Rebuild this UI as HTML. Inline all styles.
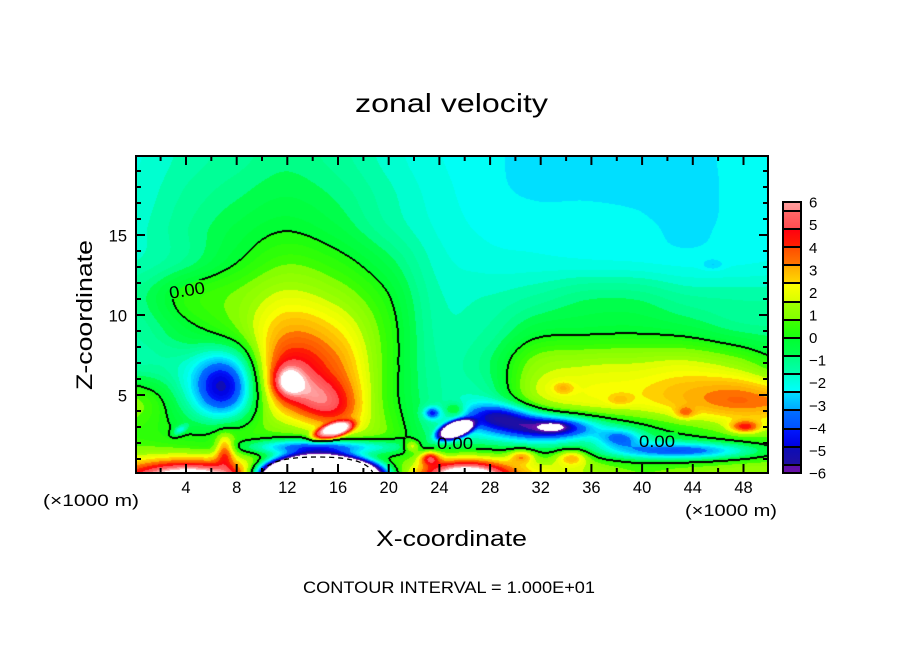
<!DOCTYPE html>
<html><head><meta charset="utf-8">
<style>
html,body{margin:0;padding:0;background:#fff;}
#wrap{position:relative;width:904px;height:654px;overflow:hidden;background:#fff;font-family:"Liberation Sans",sans-serif;}
#c{position:absolute;left:136px;top:156px;}
svg{position:absolute;left:0;top:0;}
svg text{font-family:"Liberation Sans",sans-serif;fill:#000;}
</style></head><body>
<div id="wrap">
<canvas id="c" width="632" height="317"></canvas>
<svg width="904" height="654" xmlns="http://www.w3.org/2000/svg">
<defs>
<linearGradient id="g0" x1="0" y1="0" x2="0" y2="1"><stop offset="0" stop-color="#ff9c9c"/><stop offset="1" stop-color="#ff8c8c"/></linearGradient>
<linearGradient id="g1" x1="0" y1="0" x2="0" y2="1"><stop offset="0" stop-color="#ff6868"/><stop offset="1" stop-color="#ff4c50"/></linearGradient>
<linearGradient id="g2" x1="0" y1="0" x2="0" y2="1"><stop offset="0" stop-color="#ff0010"/><stop offset="1" stop-color="#ff2000"/></linearGradient>
<linearGradient id="g3" x1="0" y1="0" x2="0" y2="1"><stop offset="0" stop-color="#ff4c00"/><stop offset="1" stop-color="#ff7800"/></linearGradient>
<linearGradient id="g4" x1="0" y1="0" x2="0" y2="1"><stop offset="0" stop-color="#ffa800"/><stop offset="1" stop-color="#ffd800"/></linearGradient>
<linearGradient id="g5" x1="0" y1="0" x2="0" y2="1"><stop offset="0" stop-color="#ffff00"/><stop offset="1" stop-color="#d8ff00"/></linearGradient>
<linearGradient id="g6" x1="0" y1="0" x2="0" y2="1"><stop offset="0" stop-color="#a0ff00"/><stop offset="1" stop-color="#80ff00"/></linearGradient>
<linearGradient id="g7" x1="0" y1="0" x2="0" y2="1"><stop offset="0" stop-color="#40ff00"/><stop offset="1" stop-color="#18ff10"/></linearGradient>
<linearGradient id="g8" x1="0" y1="0" x2="0" y2="1"><stop offset="0" stop-color="#00ff30"/><stop offset="1" stop-color="#00ff50"/></linearGradient>
<linearGradient id="g9" x1="0" y1="0" x2="0" y2="1"><stop offset="0" stop-color="#00ff80"/><stop offset="1" stop-color="#00ffb0"/></linearGradient>
<linearGradient id="g10" x1="0" y1="0" x2="0" y2="1"><stop offset="0" stop-color="#00ffc8"/><stop offset="1" stop-color="#00ffff"/></linearGradient>
<linearGradient id="g11" x1="0" y1="0" x2="0" y2="1"><stop offset="0" stop-color="#00e0ff"/><stop offset="1" stop-color="#00a8ff"/></linearGradient>
<linearGradient id="g12" x1="0" y1="0" x2="0" y2="1"><stop offset="0" stop-color="#0070ff"/><stop offset="1" stop-color="#0050ff"/></linearGradient>
<linearGradient id="g13" x1="0" y1="0" x2="0" y2="1"><stop offset="0" stop-color="#0018ff"/><stop offset="1" stop-color="#0000e0"/></linearGradient>
<linearGradient id="g14" x1="0" y1="0" x2="0" y2="1"><stop offset="0" stop-color="#0c0cb8"/><stop offset="1" stop-color="#2010a0"/></linearGradient>
<linearGradient id="g15" x1="0" y1="0" x2="0" y2="1"><stop offset="0" stop-color="#5a10a8"/><stop offset="1" stop-color="#6a10a8"/></linearGradient>
</defs>

<path d="M262,473 C266,462 285,457 318,457 C350,457 368,462 373,473" fill="none" stroke="#000" stroke-width="1.3" stroke-dasharray="5,4"/>

<rect x="136" y="156" width="632" height="317" fill="none" stroke="#000" stroke-width="2"/>
<path id="ticks" d="" fill="none" stroke="#000" stroke-width="2"/>

<text x="187" y="296" font-size="17" text-anchor="middle" textLength="36" lengthAdjust="spacingAndGlyphs" transform="rotate(-9 187 290)">0.00</text>
<text x="455" y="449" font-size="17" text-anchor="middle" textLength="36" lengthAdjust="spacingAndGlyphs">0.00</text>
<text x="657" y="447" font-size="17" text-anchor="middle" textLength="36" lengthAdjust="spacingAndGlyphs">0.00</text>

<text x="451.5" y="112" font-size="26" text-anchor="middle" textLength="193" lengthAdjust="spacingAndGlyphs">zonal velocity</text>
<text x="451.5" y="546" font-size="22" text-anchor="middle" textLength="151" lengthAdjust="spacingAndGlyphs">X-coordinate</text>
<text transform="translate(92,315) rotate(-90)" x="0" y="0" font-size="22" text-anchor="middle" textLength="150" lengthAdjust="spacingAndGlyphs">Z-coordinate</text>
<text x="449" y="593" font-size="16.5" text-anchor="middle" textLength="292" lengthAdjust="spacingAndGlyphs">CONTOUR INTERVAL = 1.000E+01</text>
<text x="43" y="506" font-size="16.5" textLength="96" lengthAdjust="spacingAndGlyphs">(×1000 m)</text>
<text x="685" y="516" font-size="16.5" textLength="92" lengthAdjust="spacingAndGlyphs">(×1000 m)</text>

<text x="127" y="241.5" font-size="16.5" text-anchor="end">15</text>
<text x="127" y="321.5" font-size="16.5" text-anchor="end">10</text>
<text x="127" y="401.5" font-size="16.5" text-anchor="end">5</text>

<g id="xlabels" font-size="16.5" text-anchor="middle"></g>

<g stroke="#000" stroke-width="2">
<rect x="783" y="202" width="18" height="9" fill="url(#g0)"/>
<rect x="783" y="211" width="18" height="18" fill="url(#g1)"/>
<rect x="783" y="229" width="18" height="18" fill="url(#g2)"/>
<rect x="783" y="247" width="18" height="18" fill="url(#g3)"/>
<rect x="783" y="265" width="18" height="18" fill="url(#g4)"/>
<rect x="783" y="283" width="18" height="19" fill="url(#g5)"/>
<rect x="783" y="302" width="18" height="18" fill="url(#g6)"/>
<rect x="783" y="320" width="18" height="18" fill="url(#g7)"/>
<rect x="783" y="338" width="18" height="18" fill="url(#g8)"/>
<rect x="783" y="356" width="18" height="18" fill="url(#g9)"/>
<rect x="783" y="374" width="18" height="18" fill="url(#g10)"/>
<rect x="783" y="392" width="18" height="18" fill="url(#g11)"/>
<rect x="783" y="410" width="18" height="19" fill="url(#g12)"/>
<rect x="783" y="429" width="18" height="18" fill="url(#g13)"/>
<rect x="783" y="447" width="18" height="18" fill="url(#g14)"/>
<rect x="783" y="465" width="18" height="8" fill="url(#g15)"/>
</g>
<g id="cblabels" font-size="15"></g>
</svg>
</div>
<script>
(function(){
var NS="http://www.w3.org/2000/svg";
var d="";
for(var u=2;u<=48;u+=2){
  var X=(135.3+12.67*u).toFixed(1);
  var len=(u%4==0)?9:5;
  d+="M"+X+" 473v-"+len+"M"+X+" 156v"+len;
}
for(var v=1;v<=19;v++){
  var Y=475-16*v; var len2=(v%5==0)?9:5;
  d+="M136 "+Y+"h"+len2+"M768 "+Y+"h-"+len2;
}
document.getElementById('ticks').setAttribute('d',d);
var xl=document.getElementById('xlabels');
for(var u2=4;u2<=48;u2+=4){
  var t=document.createElementNS(NS,'text');
  t.setAttribute('x',(135.3+12.67*u2).toFixed(1));
  t.setAttribute('y','493');
  t.textContent=String(u2);
  xl.appendChild(t);
}
var cb=document.getElementById('cblabels');
for(var k=0;k<=12;k++){
  var val=6-k;
  var t2=document.createElementNS(NS,'text');
  t2.setAttribute('x','809');
  t2.setAttribute('y',(202.3+22.58*k+5.3).toFixed(1));
  t2.textContent=(val<0?"\u2212"+(-val):String(val));
  cb.appendChild(t2);
}

var grid=[
[-1.9,-1.5,-1.2,-0.9,-1.2,-1.7,-2.1,-2.3,-2.55,-2.55,-2.55,-2.55,-2.3,-2.2],
[-1.8,-1.3,-0.9,-0.6,-0.9,-1.5,-2.0,-2.3,-2.45,-2.45,-2.5,-2.6,-2.3,-2.2],
[-1.7,-1.1,-0.5,-0.1,-0.5,-1.3,-1.9,-2.2,-2.25,-2.25,-2.3,-2.5,-2.3,-2.2],
[-1.6,-1.0,-0.05,0.7,0.3,-0.6,-1.7,-2.0,-2.05,-2.1,-2.15,-2.25,-2.2,-2.1],
[-1.0,0.3,0.9,1.8,1.3,0.1,-1.5,-1.6,-1.3,-0.9,-0.9,-1.3,-1.4,-1.4],
[-1.3,-0.3,0.8,3.1,2.5,0.5,-1.4,-1.3,-0.3,-0.15,-0.1,-0.3,-0.8,-1.0],
[-1.3,-1.2,-0.8,4.3,3.5,0.6,-1.3,-0.9,1.2,1.6,1.7,1.9,1.4,0.2],
[0.9,-0.6,-0.7,3.2,3.7,0.6,-1.2,-1.3,1.4,2.0,2.2,2.9,3.5,3.1],
[0.5,0.2,0.8,0.8,1.5,0.8,-1.0,-1.5,-1.5,-0.6,-0.6,0.1,0.8,1.0],
[1.5,1.5,1.0,0,0,0.2,2.0,2.5,2.0,1.5,0.8,1.0,1.2,1.2]
];
function G(i,j){ if(i<0)i=0; if(i>13)i=13; if(j<0)j=0; if(j>9)j=9; return grid[j][i]; }
function cr(p0,p1,p2,p3,t){ return 0.5*((2*p1)+(-p0+p2)*t+(2*p0-5*p1+4*p2-p3)*t*t+(-p0+3*p1-3*p2+p3)*t*t*t); }
function bg(x,y){
  var fx=(x-136)/50, fy=(y-156)/35;
  var i=Math.floor(fx), j=Math.floor(fy);
  var tx=fx-i, ty=fy-j;
  var r=[];
  for(var k=-1;k<=2;k++){ r.push(cr(G(i-1,j+k),G(i,j+k),G(i+1,j+k),G(i+2,j+k),tx)); }
  return cr(r[0],r[1],r[2],r[3],ty);
}
var blobs=[
[222,388,-3.6,32,32,0,1],
[288,382,3.0,15,15,0,1],
[320,400,1.8,36,20,30,1],
[333,431,5.0,22,8,-18,2],
[320,478,-20,60,22,0,2],
[322,447,-4.5,74,8,0,1],
[190,480,7,65,18,0,1],
[225,450,3.0,9,15,0,1],
[465,478,6.5,40,16,0,1],
[412,446,2.5,8,6,0,1],
[430,458,3.5,10,7,0,1],
[455,430,-7,20,9,-20,2],
[500,416,-3.4,36,13,0,1],
[553,427,-4.6,48,12,0,1],
[553,427,-2.8,12,4,0,1],
[685,451,-4.0,78,9,0,1],
[620,438,-2.5,22,9,0,1],
[522,456,2.5,13,7,0,1],
[572,457,2.5,16,8,0,1],
[745,427,3.0,15,6,0,1],
[685,413,1.5,10,6,0,1],
[563,388,1.0,10,6,0,1],
[620,400,0.7,12,6,0,1],
[455,410,1.8,10,7,0,1],
[713,265,-0.5,10,5,0,1],
[180,430,-2.0,8,4,-30,1],
[432,413,-3,8,6,0,1]
];
for(var b=0;b<blobs.length;b++){ var a=blobs[b][5]*Math.PI/180; blobs[b].push(Math.cos(a),Math.sin(a)); }
function field(x,y){
  var v=bg(x,y);
  for(var n=0;n<blobs.length;n++){
    var B=blobs[n];
    var dx=x-B[0], dy=y-B[1];
    var u=(dx*B[7]+dy*B[8])/B[3], w=(-dx*B[8]+dy*B[7])/B[4];
    var r2=u*u+w*w;
    if(r2>30) continue;
    v+=B[2]*Math.exp(-(B[6]==1?r2:Math.pow(r2,B[6])));
  }
  return v;
}
function hx(s){ return [parseInt(s.substr(0,2),16),parseInt(s.substr(2,2),16),parseInt(s.substr(4,2),16)]; }
var stops=[
[-6.0,"6a10a8"],[-5.6,"5010a8"],[-5.58,"2010a0"],[-4.82,"0c0cb8"],[-4.80,"0000e0"],[-4.02,"0018ff"],
[-4.00,"0050ff"],[-3.22,"0070ff"],[-3.20,"00a8ff"],[-2.42,"00e8ff"],[-2.40,"00ffff"],[-1.62,"00ffc8"],
[-1.60,"00ffb0"],[-0.82,"00ff80"],[-0.80,"00ff50"],[-0.02,"00ff30"],[0.00,"18ff10"],[0.78,"40ff00"],
[0.80,"80ff00"],[1.58,"a0ff00"],[1.60,"d8ff00"],[2.38,"ffff00"],[2.40,"ffd800"],[3.18,"ffa800"],
[3.20,"ff7800"],[3.98,"ff4c00"],[4.00,"ff2000"],[4.78,"ff0010"],[4.80,"ff4c50"],[5.58,"ff6868"],
[5.60,"ff8c8c"],[6.0,"ff9c9c"]
];
for(var s=0;s<stops.length;s++) stops[s][1]=hx(stops[s][1]);
function cmap(L){
  if(L<=stops[0][0]) return stops[0][1];
  for(var i=1;i<stops.length;i++){
    if(L<=stops[i][0]){
      var a=stops[i-1], c=stops[i];
      var t=(L-a[0])/(c[0]-a[0]);
      return [a[1][0]+(c[1][0]-a[1][0])*t, a[1][1]+(c[1][1]-a[1][1])*t, a[1][2]+(c[1][2]-a[1][2])*t];
    }
  }
  return stops[stops.length-1][1];
}
var S=0.8/3;
function colorOf(L){
  if(L>6.35||L<-6.3) return [255,255,255];
  if(L>6.0) return [255,190,190];
  var q=Math.floor((L+5.6)/S);
  var Lc=-5.6+(q+0.5)*S;
  if(Lc>6) Lc=5.95; if(Lc<-6) Lc=-5.95;
  return cmap(Lc);
}
var W=632,H=317,OX=136,OY=156;
var cv=document.getElementById('c'), ctx=cv.getContext('2d');
var img=ctx.createImageData(W,H), D=img.data;
var F=new Float32Array(W*H);
for(var y=0;y<H;y++) for(var x=0;x<W;x++) F[y*W+x]=field(OX+x+0.5,OY+y+0.5);
for(var p=0;p<W*H;p++){
  var c=colorOf(F[p]);
  D[p*4]=c[0]; D[p*4+1]=c[1]; D[p*4+2]=c[2]; D[p*4+3]=255;
}
var excl=[[167,280,42,19],[434,434,42,17],[636,432,42,17]];
function inEx(x,y){
  var ax=x+OX, ay=y+OY;
  for(var e=0;e<excl.length;e++){ var E=excl[e]; if(ax>=E[0]&&ax<E[0]+E[2]&&ay>=E[1]&&ay<E[1]+E[3]) return true; }
  return false;
}
var M=new Uint8Array(W*H);
for(var y2=0;y2<H;y2++) for(var x2=0;x2<W;x2++){
  var i0=y2*W+x2, s0=F[i0]>=0;
  if(x2+1<W && s0!=(F[i0+1]>=0)){ M[i0]=1; M[i0+1]=1; }
  if(y2+1<H && s0!=(F[i0+W]>=0)){ M[i0]=1; M[i0+W]=1; }
}
for(var y3=0;y3<H;y3++) for(var x3=0;x3<W;x3++){
  var i1=y3*W+x3;
  if(M[i1] && !inEx(x3,y3)){ D[i1*4]=0; D[i1*4+1]=0; D[i1*4+2]=0; }
}
ctx.putImageData(img,0,0);
})();
</script>
</body></html>
